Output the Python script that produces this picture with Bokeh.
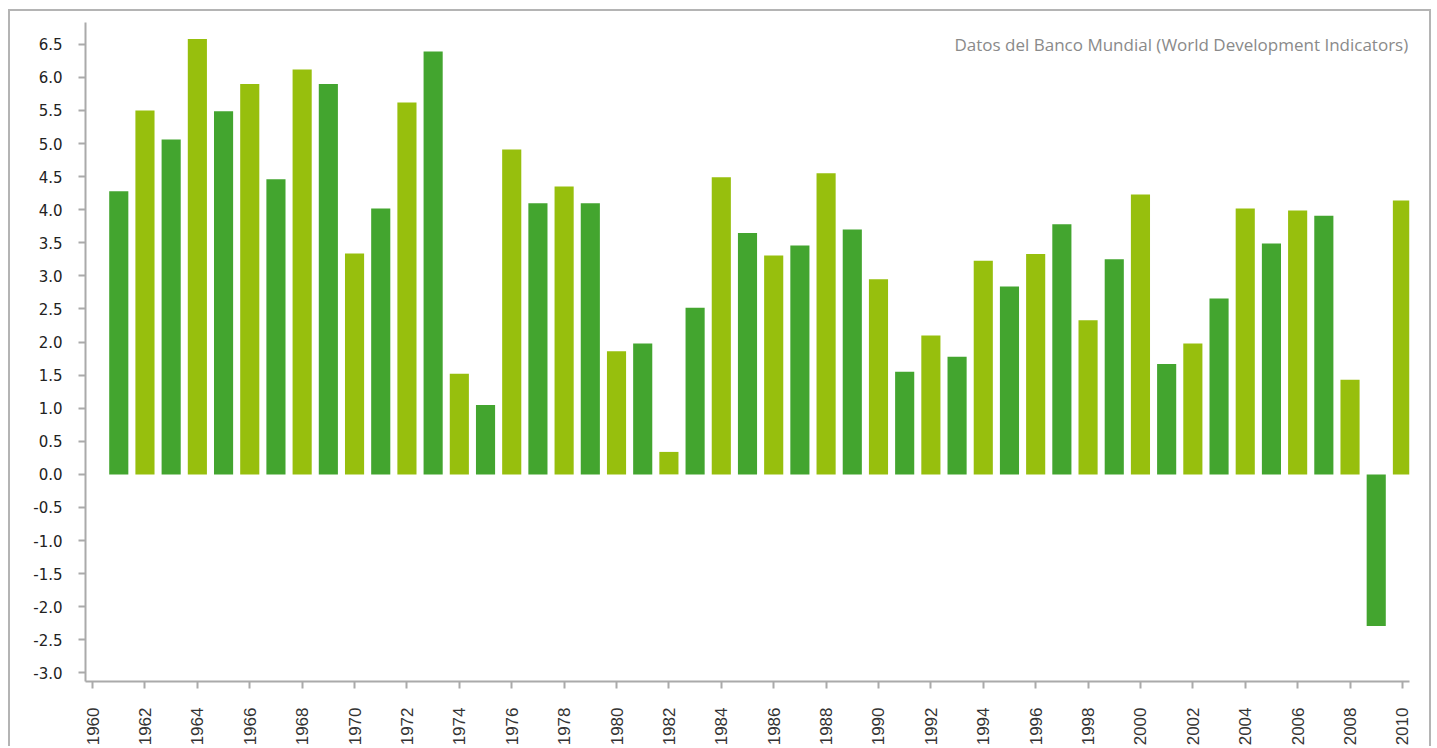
import math
from bokeh.plotting import figure
from bokeh.models import ColumnDataSource, FixedTicker, Range1d, Label, NumeralTickFormatter
from bokeh.embed import file_html
from bokeh.resources import INLINE

years = list(range(1961, 2011))
growth = [4.28, 5.50, 5.06, 6.58, 5.49, 5.90, 4.46, 6.12, 5.90, 3.34,
          4.02, 5.62, 6.39, 1.52, 1.05, 4.91, 4.10, 4.35, 4.10, 1.86,
          1.98, 0.34, 2.52, 4.49, 3.65, 3.31, 3.46, 4.55, 3.70, 2.95,
          1.55, 2.10, 1.78, 3.23, 2.84, 3.33, 3.78, 2.33, 3.25, 4.23,
          1.67, 1.98, 2.66, 4.02, 3.49, 3.99, 3.91, 1.43, -2.29, 4.14]
x_ticks = list(range(1960, 2011, 2))
y_ticks = [-3.0 + 0.5 * i for i in range(20)]
source_note = "Datos del Banco Mundial (World Development Indicators)"

DARK = "#43a52f"
LIGHT = "#97bf0d"
colors = [DARK if y % 2 == 1 else LIGHT for y in years]

src = ColumnDataSource(dict(year=years, val=growth, color=colors))

p = figure(width=1423, height=737, output_backend="svg", toolbar_location=None,
           x_range=Range1d(1959.73, 2010.27), y_range=Range1d(-3.13, 6.83),
           min_border_left=75, min_border_right=24, min_border_top=11, min_border_bottom=66,
           margin=(9, 0, 0, 8),
           styles={"border-top": "2px solid #b4b4b4", "border-left": "2px solid #b4b4b4",
                   "border-right": "2px solid #b4b4b4"})

p.vbar(x="year", top="val", bottom=0, width=0.73, color="color", line_color=None, source=src)

p.grid.visible = False
p.outline_line_color = None
p.background_fill_color = "white"
p.border_fill_color = "white"

for ax in (p.xaxis[0], p.yaxis[0]):
    ax.axis_line_color = "#aaaaaa"
    ax.axis_line_width = 2
    ax.major_tick_line_color = "#aaaaaa"
    ax.major_tick_line_width = 2
    ax.major_tick_out = 7
    ax.major_tick_in = 0
    ax.minor_tick_line_color = None

p.xaxis.ticker = FixedTicker(ticks=x_ticks)
p.xaxis.major_label_orientation = math.pi / 2
p.xaxis.major_label_text_font = "Liberation Sans"
p.xaxis.major_label_text_font_size = "17px"
p.xaxis.major_label_text_color = "#333333"
p.xaxis.major_label_standoff = 19

p.yaxis.ticker = FixedTicker(ticks=y_ticks)
p.yaxis.formatter = NumeralTickFormatter(format="0.0")
p.yaxis.major_label_text_font = "DejaVu Sans"
p.yaxis.major_label_text_font_size = "15px"
p.yaxis.major_label_text_color = "#222222"
p.yaxis.major_label_standoff = 16

lbl = Label(x=2010.22, y=6.49, text=source_note,
            text_align="right", text_baseline="middle", text_font="Open Sans",
            text_font_size="17px", text_color="#8a8a8a")
p.add_layout(lbl)

open("out.html", "w").write(file_html(p, INLINE))
